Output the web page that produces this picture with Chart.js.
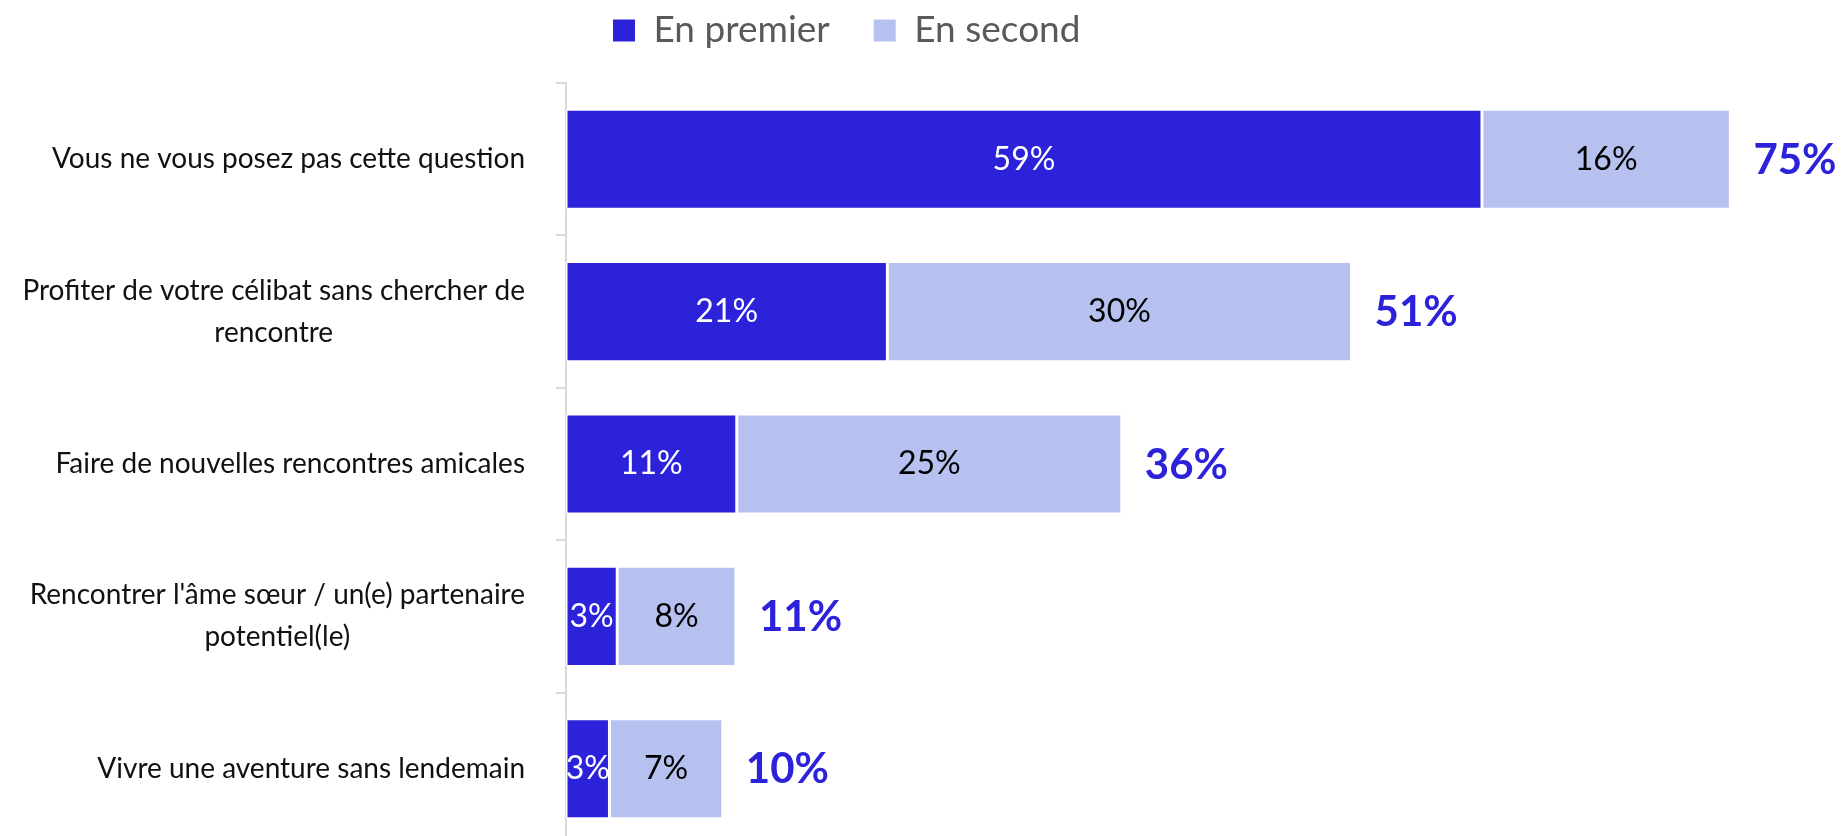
<!DOCTYPE html>
<html>
<head>
<meta charset="utf-8">
<script src="https://cdn.jsdelivr.net/npm/chart.js@4/dist/chart.umd.min.js"></script>
<style>
html,body{margin:0;padding:0;background:#ffffff;overflow:hidden;}
#wrap{width:1842px;height:845px;}
</style>
</head>
<body>
<div id="wrap"><canvas id="c" width="1842" height="845"></canvas></div>
<script>
// ---- data ----
const categories = [
  ["Vous ne vous posez pas cette question"],
  ["Profiter de votre célibat sans chercher de", "rencontre"],
  ["Faire de nouvelles rencontres amicales"],
  ["Rencontrer l'âme sœur / un(e) partenaire", "potentiel(le)"],
  ["Vivre une aventure sans lendemain"]
];
const seriesNames = ["En premier", "En second"];
const enPremier = [59.0, 20.7, 11.0, 3.3, 2.8];
const enSecond  = [16.0, 29.9, 24.8, 7.65, 7.3];
const xMax = 80;

// ---- style ----
const DARK = '#2C22DA';
const LIGHT = '#B7C1F0';
const FONT = 'Lato, "Open Sans", sans-serif';

const pct = v => Math.round(v) + '%';

const legendShift = {
  id: 'legendShift',
  afterLayout(chart) {
    const lg = chart.legend;
    if (!lg || !lg.lineWidths) return;
    const pad = lg.options.labels.padding;
    const x0 = (lg.left + pad + lg.right - lg.lineWidths[0]) / 2;
    const dx = 613 - x0;
    lg.left += dx; lg.right += dx;
    const dy = -32 - lg.top;
    lg.top += dy; lg.bottom += dy;
  }
};

const catLabels = {
  id: 'catLabels',
  afterDraw(chart) {
    const {ctx} = chart;
    const y = chart.scales.y;
    ctx.save();
    ctx.font = '28px ' + FONT;
    ctx.fillStyle = '#111111';
    ctx.textAlign = 'center';
    ctx.textBaseline = 'middle';
    const lh = 42;
    chart.data.labels.forEach((lines, i) => {
      const cy = y.getPixelForValue(i);
      const w = Math.max(...lines.map(l => ctx.measureText(l).width));
      const cx = y.right - 41 - w / 2;
      lines.forEach((l, j) => ctx.fillText(l, cx, cy + (j - (lines.length - 1) / 2) * lh));
    });
    ctx.restore();
  }
};

const valueLabels = {
  id: 'valueLabels',
  afterDatasetsDraw(chart) {
    const {ctx} = chart;
    ctx.save();
    ctx.textBaseline = 'middle';
    ctx.textAlign = 'center';
    ctx.font = '32px ' + FONT;
    chart.data.datasets.forEach((ds, di) => {
      const meta = chart.getDatasetMeta(di);
      ctx.fillStyle = di === 0 ? '#ffffff' : '#000000';
      meta.data.forEach((bar, i) => {
        ctx.fillText(pct(ds.data[i]), (bar.x + bar.base) / 2, bar.y);
      });
    });
    // totals
    const last = chart.getDatasetMeta(chart.data.datasets.length - 1);
    ctx.textAlign = 'left';
    ctx.font = 'bold 42px ' + FONT;
    ctx.fillStyle = DARK;
    last.data.forEach((bar, i) => {
      const total = enPremier[i] + enSecond[i];
      ctx.fillText(pct(total), bar.x + 23, bar.y + 1);
    });
    ctx.restore();
  }
};

const barStyle = {
  borderColor: '#ffffff',
  borderWidth: {left: 1.5, right: 1.5, top: 1, bottom: 1},
  borderSkipped: false,
  barPercentage: 0.65,
  categoryPercentage: 1
};

new Chart(document.getElementById('c'), {
  type: 'bar',
  data: {
    labels: categories,
    datasets: [
      Object.assign({label: seriesNames[0], data: enPremier, backgroundColor: DARK}, barStyle),
      Object.assign({label: seriesNames[1], data: enSecond, backgroundColor: LIGHT}, barStyle)
    ]
  },
  options: {
    indexAxis: 'y',
    responsive: false,
    animation: false,
    layout: {padding: {top: -8, right: 34, left: 0, bottom: 0}},
    scales: {
      x: {stacked: true, min: 0, max: xMax, display: false},
      y: {
        stacked: true,
        grid: {display: true, drawOnChartArea: false, drawTicks: true, tickLength: 10, color: '#d9d9d9', lineWidth: 2, offset: true},
        border: {display: true, color: '#d9d9d9', width: 2},
        ticks: {display: false},
        afterFit: s => { s.width = 566; }
      }
    },
    plugins: {
      tooltip: {enabled: false},
      legend: {
        display: true,
        position: 'top',
        labels: {
          font: {family: FONT, size: 37},
          color: '#595959',
          boxWidth: 22,
          boxHeight: 22,
          padding: 44,
          generateLabels: chart => Chart.defaults.plugins.legend.labels.generateLabels(chart)
            .map(l => Object.assign(l, {lineWidth: 0, strokeStyle: 'rgba(0,0,0,0)'}))
        }
      }
    }
  },
  plugins: [legendShift, catLabels, valueLabels]
});
</script>
</body>
</html>
